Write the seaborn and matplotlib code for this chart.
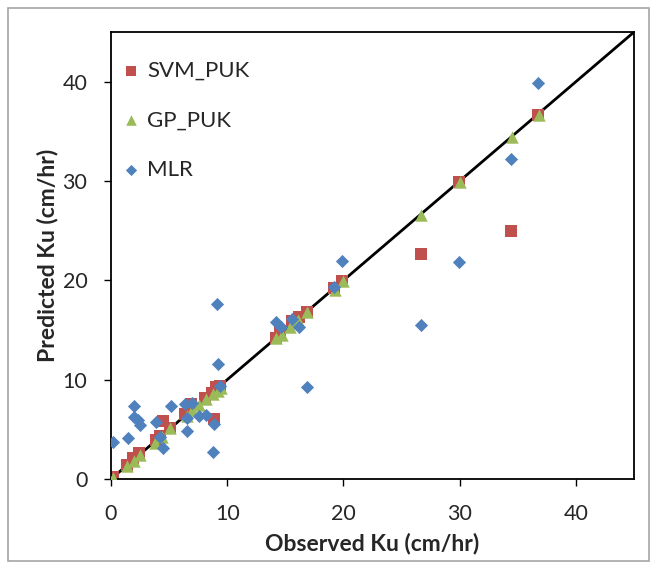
import numpy as np
import pandas as pd
import matplotlib.pyplot as plt
import matplotlib.patches as patches
import seaborn as sns

# observed vs predicted Ku (cm/hr)
svm_obs = [0.2, 1.35, 1.9, 2.4, 3.85, 4.2, 4.5, 5.1, 6.35, 6.9, 8.1, 8.7, 9.0, 9.4, 8.9,
           14.2, 14.55, 15.6, 16.2, 16.9, 19.2, 19.9, 26.7, 29.9, 34.4, 36.7]
svm_pred = [0.2, 1.45, 2.1, 2.6, 3.9, 4.35, 5.8, 5.1, 6.5, 7.6, 8.15, 8.7, 9.25, 9.4, 6.0,
            14.2, 14.9, 15.95, 16.3, 16.8, 19.2, 19.95, 22.7, 29.9, 25.0, 36.6]

gp_obs = [0.2, 1.4, 2.0, 2.5, 3.8, 4.4, 5.1, 6.5, 7.0, 7.6, 8.2, 8.8, 9.2, 9.5,
          14.2, 14.7, 15.4, 16.1, 16.9, 19.3, 20.0, 26.7, 30.0, 34.5, 36.8]
gp_pred = [0.1, 1.3, 1.8, 2.4, 3.6, 4.2, 5.1, 6.3, 6.9, 7.5, 8.1, 8.6, 8.9, 9.2,
           14.2, 14.5, 15.3, 16.0, 16.8, 19.0, 19.9, 26.6, 29.9, 34.4, 36.6]

mlr_obs = [0.2, 1.45, 2.0, 1.95, 2.35, 2.5, 3.85, 4.2, 4.5, 5.15, 6.4, 6.5, 6.5, 6.95,
           7.6, 8.2, 8.8, 8.85, 9.1, 9.2, 9.4, 14.2, 14.6, 15.6, 16.15, 16.9, 19.2,
           19.9, 26.7, 29.9, 34.4, 36.7]
mlr_pred = [3.7, 4.1, 7.35, 6.25, 5.9, 5.45, 5.75, 4.25, 3.15, 7.35, 7.55, 6.1, 4.8, 7.7,
            6.35, 6.45, 2.7, 5.5, 17.6, 11.6, 9.4, 15.85, 15.35, 16.1, 15.3, 9.3, 19.3,
            21.9, 15.5, 21.8, 32.2, 39.9]

ticks = [0, 10, 20, 30, 40]

sns.set_style("white")
plt.rcParams['font.family'] = ['Lato', 'DejaVu Sans']

fig = plt.figure(figsize=(6.51, 5.65), dpi=100)
ax = fig.add_axes([0.1705, 0.1522, 0.8035, 0.7912])

# grey outer frame like the excel chart area
fig.patches.append(patches.Rectangle((0.0123, 0.007), 0.984, 0.979, transform=fig.transFigure,
                                     fill=False, edgecolor='#a6a6a6', linewidth=1.2))

ax.plot([0, 45], [0, 45], color='black', linewidth=2, zorder=1)

sns.scatterplot(x=svm_obs, y=svm_pred, marker='s', s=72, color='#C0504D', linewidth=0,
                label='SVM_PUK', ax=ax, zorder=2)
sns.scatterplot(x=gp_obs, y=gp_pred, marker='^', s=80, color='#9BBB59', linewidth=0,
                label='GP_PUK', ax=ax, zorder=3)
sns.scatterplot(x=mlr_obs, y=mlr_pred, marker='D', s=45, color='#4F81BD', linewidth=0,
                label='MLR', ax=ax, zorder=4)

ax.set_xlim(0, 45)
ax.set_ylim(0, 45)
ax.set_xticks(ticks)
ax.set_yticks(ticks)
ax.tick_params(axis='x', direction='out', length=5, width=1, labelsize=15.5,
               bottom=True, color='black', pad=13)
ax.tick_params(axis='y', direction='out', length=5, width=1, labelsize=15.5,
               left=True, color='black', pad=12)
for sp in ax.spines.values():
    sp.set_color('black')
    sp.set_linewidth(1.3)

ax.set_xlabel('Observed Ku (cm/hr)', fontsize=16.5, fontweight='bold', labelpad=6)
ax.set_ylabel('Predicted Ku (cm/hr)', fontsize=16.5, fontweight='bold', labelpad=3)

ax.legend(loc='upper left', bbox_to_anchor=(0.005, 0.955), frameon=False, fontsize=16,
          labelspacing=1.32, handlelength=0.8, handletextpad=0.3, borderaxespad=0,
          markerscale=0.85)

fig.savefig('out.png', dpi=100)
